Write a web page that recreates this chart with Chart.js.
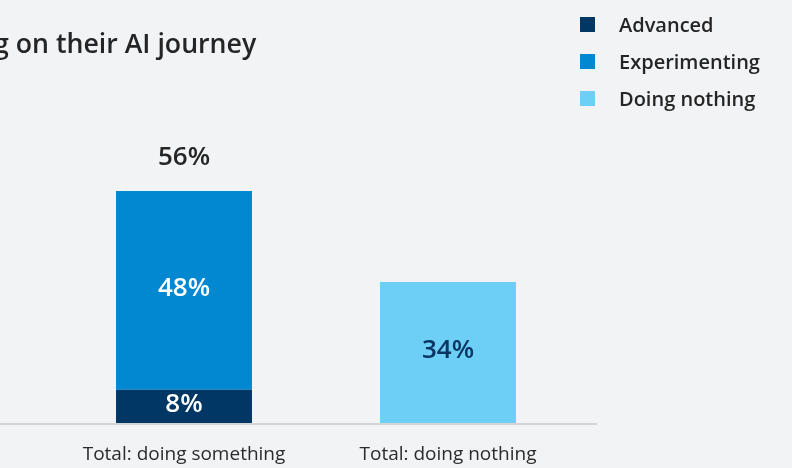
<!DOCTYPE html>
<html>
<head>
<meta charset="utf-8">
<script src="https://cdn.jsdelivr.net/npm/chart.js@4"></script>
<style>
    body { margin: 0; background: #f2f3f5; font-family: "Open Sans", "Noto Sans", sans-serif; }
    #wrap { position: relative; width: 792px; height: 468px; overflow: hidden; }
    #title { position: absolute; left: -6px; top: 24px; font-size: 26.7px; font-weight: 600; color: #252525; white-space: nowrap; }
    #legend { position: absolute; left: 580px; top: 6px; }
    .legend-item { display: flex; align-items: center; height: 37px; font-size: 20px; font-weight: 600; color: #252525; }
    .legend-box { width: 15px; height: 15px; margin-right: 24px; }
</style>
</head>
<body>
<div id="wrap">
    <canvas id="chart" width="792" height="468"></canvas>
    <div id="title">g on their AI journey</div>
    <div id="legend"></div>
</div>
<script>
// Data
const categories = ['Total: doing something', 'Total: doing nothing'];
const advanced = [8, null];
const experimenting = [48, null];
const doingNothing = [null, 34];
const totals = [56, null];

const seriesNames = ['Advanced', 'Experimenting', 'Doing nothing'];
const seriesColors = ['#003764', '#0288d1', '#6dcff6'];
const labelColors = ['#ffffff', '#ffffff', '#0b3563'];

// Build legend
document.getElementById('legend').innerHTML = seriesNames.map((name, i) => `
    <div class="legend-item"><div class="legend-box" style="background:${seriesColors[i]}"></div>${name}</div>
`).join('');

// Baseline + value labels
const labelPlugin = {
    id: 'labels',
    afterDatasetsDraw(chart) {
        const ctx = chart.ctx;
        const y0 = chart.scales.y.getPixelForValue(0);
        ctx.save();
        ctx.strokeStyle = '#d3d4d7';
        ctx.lineWidth = 2;
        ctx.beginPath();
        ctx.moveTo(0, y0 + 1);
        ctx.lineTo(597, y0 + 1);
        ctx.stroke();

        ctx.font = '600 26px "Open Sans", "Noto Sans", sans-serif';
        ctx.textAlign = 'center';
        ctx.textBaseline = 'middle';
        chart.data.datasets.forEach((ds, di) => {
            chart.getDatasetMeta(di).data.forEach((bar, i) => {
                if (ds.data[i] == null) return;
                ctx.fillStyle = labelColors[di];
                ctx.fillText(ds.data[i] + '%', bar.x, (bar.y + bar.base) / 2 - 2);
            });
        });
        const meta = chart.getDatasetMeta(1);
        totals.forEach((t, i) => {
            if (t == null) return;
            ctx.fillStyle = '#252525';
            ctx.fillText(t + '%', meta.data[i].x, meta.data[i].y - 33);
        });
        ctx.restore();
    }
};

new Chart(document.getElementById('chart'), {
    type: 'bar',
    data: {
        labels: categories,
        datasets: [advanced, experimenting, doingNothing].map((d, i) => ({
            label: seriesNames[i],
            data: d,
            backgroundColor: seriesColors[i],
            barPercentage: 0.515,
            categoryPercentage: 1,
            skipNull: true
        }))
    },
    options: {
        responsive: false,
        animation: false,
        layout: { padding: { left: 52, right: 212, top: 130, bottom: 0 } },
        plugins: { legend: { display: false }, tooltip: { enabled: false } },
        scales: {
            x: {
                stacked: true,
                grid: { display: false, drawTicks: false },
                border: { display: false },
                ticks: { color: '#2b2b2b', padding: 20, maxRotation: 0, font: { size: 19, family: '"Open Sans", "Noto Sans", sans-serif' } },
                afterFit: (scale) => { scale.height = 45; }
            },
            y: {
                stacked: true,
                display: false,
                min: 0,
                max: 70.7
            }
        }
    },
    plugins: [labelPlugin]
});
</script>
</body>
</html>
